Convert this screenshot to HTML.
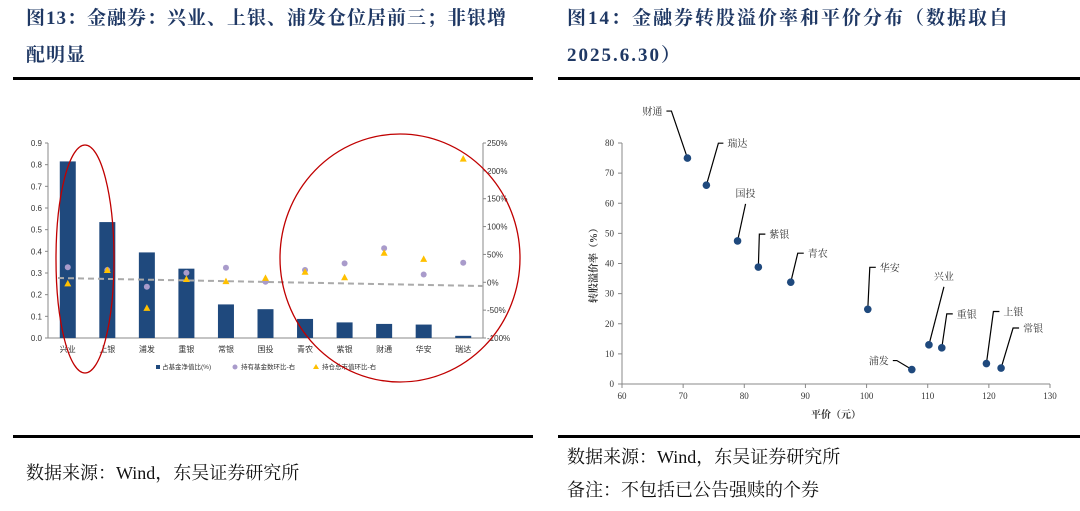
<!DOCTYPE html>
<html><head><meta charset="utf-8">
<style>
body{margin:0;width:1080px;height:511px;background:#fff;overflow:hidden;position:relative;font-family:"Liberation Serif","Noto Serif CJK SC",serif}
.t{position:absolute;color:#1F3864;font-weight:bold;font-size:19px;line-height:37px;letter-spacing:1px}
.hl{position:absolute;height:3px;background:#000}
.src{position:absolute;font-size:18px;color:#111}
svg{position:absolute;left:0;top:0}
</style></head><body>
<div class="t" style="left:26px;top:0px;width:500px">图13：金融券：兴业、上银、浦发仓位居前三；非银增配明显</div>
<div class="t" style="left:567px;top:0px;width:510px;letter-spacing:2px">图14：金融券转股溢价率和平价分布（数据取自2025.6.30）</div>
<div class="hl" style="left:13px;top:77px;width:520px"></div>
<div class="hl" style="left:558px;top:77px;width:522px"></div>
<div class="hl" style="left:13px;top:435px;width:520px"></div>
<div class="hl" style="left:558px;top:435px;width:522px"></div>
<div class="src" style="left:26px;top:459px">数据来源：Wind，东吴证券研究所</div>
<div class="src" style="left:567px;top:443px">数据来源：Wind，东吴证券研究所</div>
<div class="src" style="left:567px;top:476px">备注：不包括已公告强赎的个券</div>
<svg id="chart" width="1080" height="511"></svg>
<script>
const cats=["兴业","上银","浦发","重银","常银","国投","青农","紫银","财通","华安","瑞达"];
const barVals=[0.815,0.535,0.395,0.32,0.155,0.133,0.088,0.072,0.065,0.062,0.01];
const fundChg=[27,22,-8,17,26,1,22,34,61,14,35];
const mvChg=[-2,22,-46,6,2,8,19,9,53,42,222];
const leftTicks=[0,0.1,0.2,0.3,0.4,0.5,0.6,0.7,0.8,0.9];
const rightTicks=[-100,-50,0,50,100,150,200,250];
const sNames=["财通","瑞达","国投","紫银","青农","华安","兴业","重银","浦发","上银","常银"];
const sParity=[70.7,73.8,78.9,82.3,87.6,100.2,110.2,112.3,107.4,119.6,122];
const sPrem=[75,66,47.5,38.8,33.8,24.8,13,12,4.8,6.8,5.3];
const xTicks=[60,70,80,90,100,110,120,130];
const yTicks=[0,10,20,30,40,50,60,70,80];
const svg=document.getElementById('chart');const NS="http://www.w3.org/2000/svg";
function el(t,a,txt){const e=document.createElementNS(NS,t);for(const k in a)e.setAttribute(k,a[k]);if(txt!=null)e.textContent=txt;svg.appendChild(e);return e;}
const SF='"Liberation Sans","Noto Sans CJK SC",sans-serif';
const L0=48,L1=483,T=143,B=338;
const yL=v=>B-(v/0.9)*(B-T);
const yR=v=>B-((v+100)/350)*(B-T);
const bw=(L1-L0)/cats.length;
const xc=i=>L0+bw*(i+0.5);
let e;
e=el('line',{x1:L0,y1:T,x2:L0,y2:B,stroke:'#888'});
e=el('line',{x1:L1,y1:T,x2:L1,y2:B,stroke:'#888'});
e=el('line',{x1:L0,y1:B,x2:L1,y2:B,stroke:'#888'});
leftTicks.forEach(v=>{e=el('text',{x:L0-6,y:yL(v)+3,'font-size':8,'text-anchor':'end','font-family':SF,fill:'#333'},v.toFixed(1));el('line',{x1:L0-3,x2:L0,y1:yL(v),y2:yL(v),stroke:'#888'});});
rightTicks.forEach(v=>{e=el('text',{x:L1+4,y:yR(v)+3,'font-size':8,'font-family':SF,fill:'#333'},v+'%');el('line',{x1:L1,x2:L1+3,y1:yR(v),y2:yR(v),stroke:'#888'});});
cats.forEach((c,i)=>{
 e=el('rect',{x:xc(i)-8,y:yL(barVals[i]),width:16,height:B-yL(barVals[i]),fill:'#1F497D'});
 e=el('text',{x:xc(i),y:B+14,'font-size':8,'text-anchor':'middle','font-family':SF,fill:'#333'},c);
});
e=el('line',{x1:L0+10,y1:278,x2:L1,y2:286,stroke:'#aaa','stroke-width':2,'stroke-dasharray':'6,4'});
cats.forEach((c,i)=>{
 e=el('circle',{cx:xc(i),cy:yR(fundChg[i]),r:3,fill:'#A99BCB'});
 const y=yR(mvChg[i]);
 e=el('polygon',{points:`${xc(i)-3.5},${y+3} ${xc(i)+3.5},${y+3} ${xc(i)},${y-3.5}`,fill:'#FFC000'});
});
el('rect',{x:156,y:365,width:4,height:4,fill:'#1F497D'});
e=el('text',{x:162,y:369,'font-size':6.5,'font-family':SF,fill:'#333'},'占基金净值比(%)');
el('circle',{cx:235,cy:367,r:2.5,fill:'#A99BCB'});
e=el('text',{x:241,y:369,'font-size':6.5,'font-family':SF,fill:'#333'},'持有基金数环比-右');
el('polygon',{points:'313,369 319,369 316,364',fill:'#FFC000'});
e=el('text',{x:322,y:369,'font-size':6.5,'font-family':SF,fill:'#333'},'持仓总市值环比-右');
e=el('ellipse',{cx:85,cy:259,rx:29,ry:114,fill:'none',stroke:'#C00000','stroke-width':1.3});
e=el('ellipse',{cx:400,cy:258,rx:120,ry:124,fill:'none',stroke:'#C00000','stroke-width':1.3});
const X0=622,X1=1050,YB=384,YT=143;
const sx=v=>X0+(v-60)/70*(X1-X0);
const sy=v=>YB-v/80*(YB-YT);
e=el('line',{x1:X0,y1:YT,x2:X0,y2:YB,stroke:'#888'});
e=el('line',{x1:X0,y1:YB,x2:X1,y2:YB,stroke:'#888'});
xTicks.forEach(v=>{el('line',{x1:sx(v),x2:sx(v),y1:YB,y2:YB+4,stroke:'#888'});e=el('text',{x:sx(v),y:YB+15,'font-size':9,'text-anchor':'middle',fill:'#333','font-family':'"Liberation Serif",serif'},v);});
yTicks.forEach(v=>{el('line',{x1:X0-4,x2:X0,y1:sy(v),y2:sy(v),stroke:'#888'});e=el('text',{x:X0-8,y:sy(v)+3,'font-size':9,'text-anchor':'end',fill:'#333','font-family':'"Liberation Serif",serif'},v);});
e=el('text',{x:836,y:418,'font-size':10,'font-weight':'bold','text-anchor':'middle',fill:'#333','font-family':'"Liberation Serif","Noto Serif CJK SC",serif'},'平价（元）');
e=el('text',{x:0,y:0,'font-size':10,'font-weight':'bold','text-anchor':'middle',fill:'#333',transform:'translate(597,263) rotate(-90)','font-family':'"Liberation Serif","Noto Serif CJK SC",serif'},'转股溢价率（%）');
const lblOff=[[-16,-47,-5,'end'],[12,-42,5,'start'],[8,-37,0,'mid'],[1,-33,6,'start'],[7,-29,6,'start'],[2,-42,6,'start'],[15,-58,0,'mid'],[5,-34,6,'start'],[-15,-9,-4,'end'],[7,-52,6,'start'],[12,-40,6,'start']];
sNames.forEach((n,i)=>{
 const px=sx(sParity[i]),py=sy(sPrem[i]);const o=lblOff[i];
 const ex=px+o[0],ey=py+o[1];
 el('polyline',{points:`${px},${py} ${ex},${ey} ${ex+o[2]},${ey}`,fill:'none',stroke:'#000','stroke-width':1.2});
 e=el('circle',{cx:px,cy:py,r:3.8,fill:'#1F497D'});
 let tx,ty=ey+4,an;
 if(o[3]==='mid'){tx=ex;ty=ey-7;an='middle';}else if(o[3]==='end'){tx=ex+o[2]-4;an='end';}else{tx=ex+o[2]+4;an='start';}
 e=el('text',{x:tx,y:ty,'font-size':10,'text-anchor':an,fill:'#333','font-family':'"Liberation Serif","Noto Serif CJK SC",serif'},n);
});
</script>
</body></html>
